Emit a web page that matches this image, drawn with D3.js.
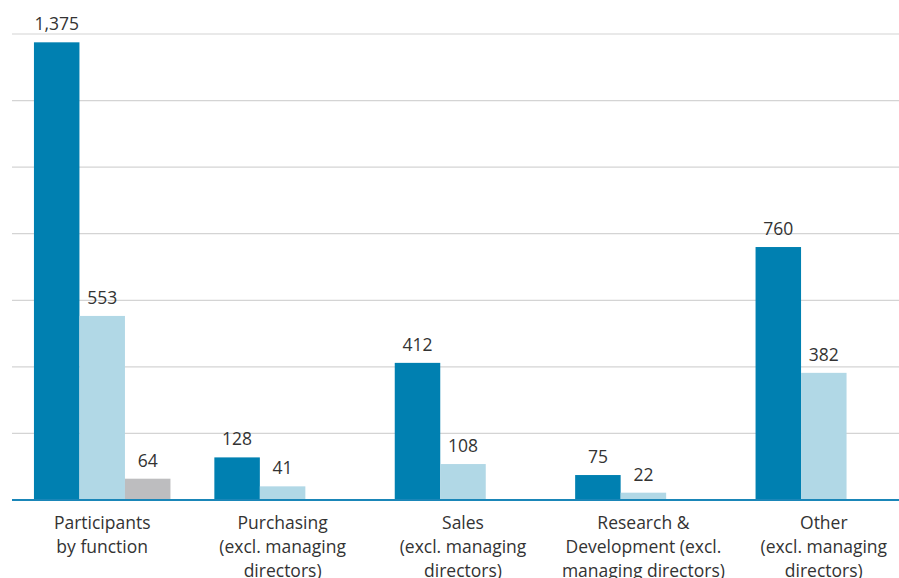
<!DOCTYPE html>
<html lang="en">
<head>
<meta charset="UTF-8">
<title>Participants by function</title>
<script src="https://cdn.jsdelivr.net/npm/d3@7"></script>
<style>
body{margin:0;background:#fff;}
text{font-family:"Open Sans","Lato",sans-serif;font-weight:400;fill:#333;}
</style>
</head>
<body>
<script>
// data
var categories = [
  ["Participants","by function"],
  ["Purchasing","(excl. managing","directors)"],
  ["Sales","(excl. managing","directors)"],
  ["Research &","Development (excl.","managing directors)"],
  ["Other","(excl. managing","directors)"]
];
var seriesA = [1375, 128, 412, 75, 760];
var seriesB = [553, 41, 108, 22, 382];
var seriesC = [64, null, null, null, null];
var yTicks = [0, 200, 400, 600, 800, 1000, 1200, 1400];

var width = 899, height = 578;
var colors = ["#0080b1", "#b1d8e6", "#bdbdbf"];
var svg = d3.select("body").append("svg").attr("width", width).attr("height", height);

var x0 = d3.scaleBand().domain(d3.range(categories.length)).range([12, 914]);
var barW = 45.5;
var x1 = d3.scaleBand().domain([0,1,2])
  .range([(x0.bandwidth()-3*barW)/2, (x0.bandwidth()+3*barW)/2]);
var y = d3.scaleLinear().domain([0, 1400]).range([500, 34]);

//网格线
svg.append("g").selectAll("line").data(yTicks.slice(1)).enter().append("line")
  .attr("x1", 12).attr("x2", width)
  .attr("y1", function(d){return y(d);}).attr("y2", function(d){return y(d);})
  .attr("stroke", "#d4d4d4").attr("stroke-width", 1.2);

var series = [seriesA, seriesB, seriesC];
var bars = [];
series.forEach(function(s, si){
  s.forEach(function(v, ci){
    if (v != null) bars.push({s: si, c: ci, v: v});
  });
});

svg.append("g").selectAll("rect").data(bars).enter().append("rect")
  .attr("x", function(d){return x0(d.c) + x1(d.s);})
  .attr("y", function(d){return y(d.v);})
  .attr("width", x1.bandwidth())
  .attr("height", function(d){return y(0) - y(d.v);})
  .attr("fill", function(d){return colors[d.s];});

svg.append("g").selectAll("text").data(bars).enter().append("text")
  .attr("x", function(d){return x0(d.c) + x1(d.s) + x1.bandwidth()/2;})
  .attr("y", function(d){return y(d.v) - 12;})
  .attr("text-anchor", "middle")
  .style("font-size", "17.5px")
  .text(function(d){return d3.format(",")(d.v);});

//底部轴线
svg.append("line").attr("x1", 12).attr("x2", width)
  .attr("y1", y(0)).attr("y2", y(0))
  .attr("stroke", "#1a86b8").attr("stroke-width", 2);

//类别标签
var lab = svg.append("g").selectAll("text").data(categories).enter().append("text")
  .attr("text-anchor", "middle")
  .style("font-size", "17.5px");
lab.selectAll("tspan").data(function(d, i){return d.map(function(t){return {t: t, i: i};});})
  .enter().append("tspan")
  .attr("x", function(d){return x0(d.i) + x0.bandwidth()/2;})
  .attr("y", function(d, j){return 529 + j*24;})
  .text(function(d){return d.t;});
</script>
</body>
</html>
